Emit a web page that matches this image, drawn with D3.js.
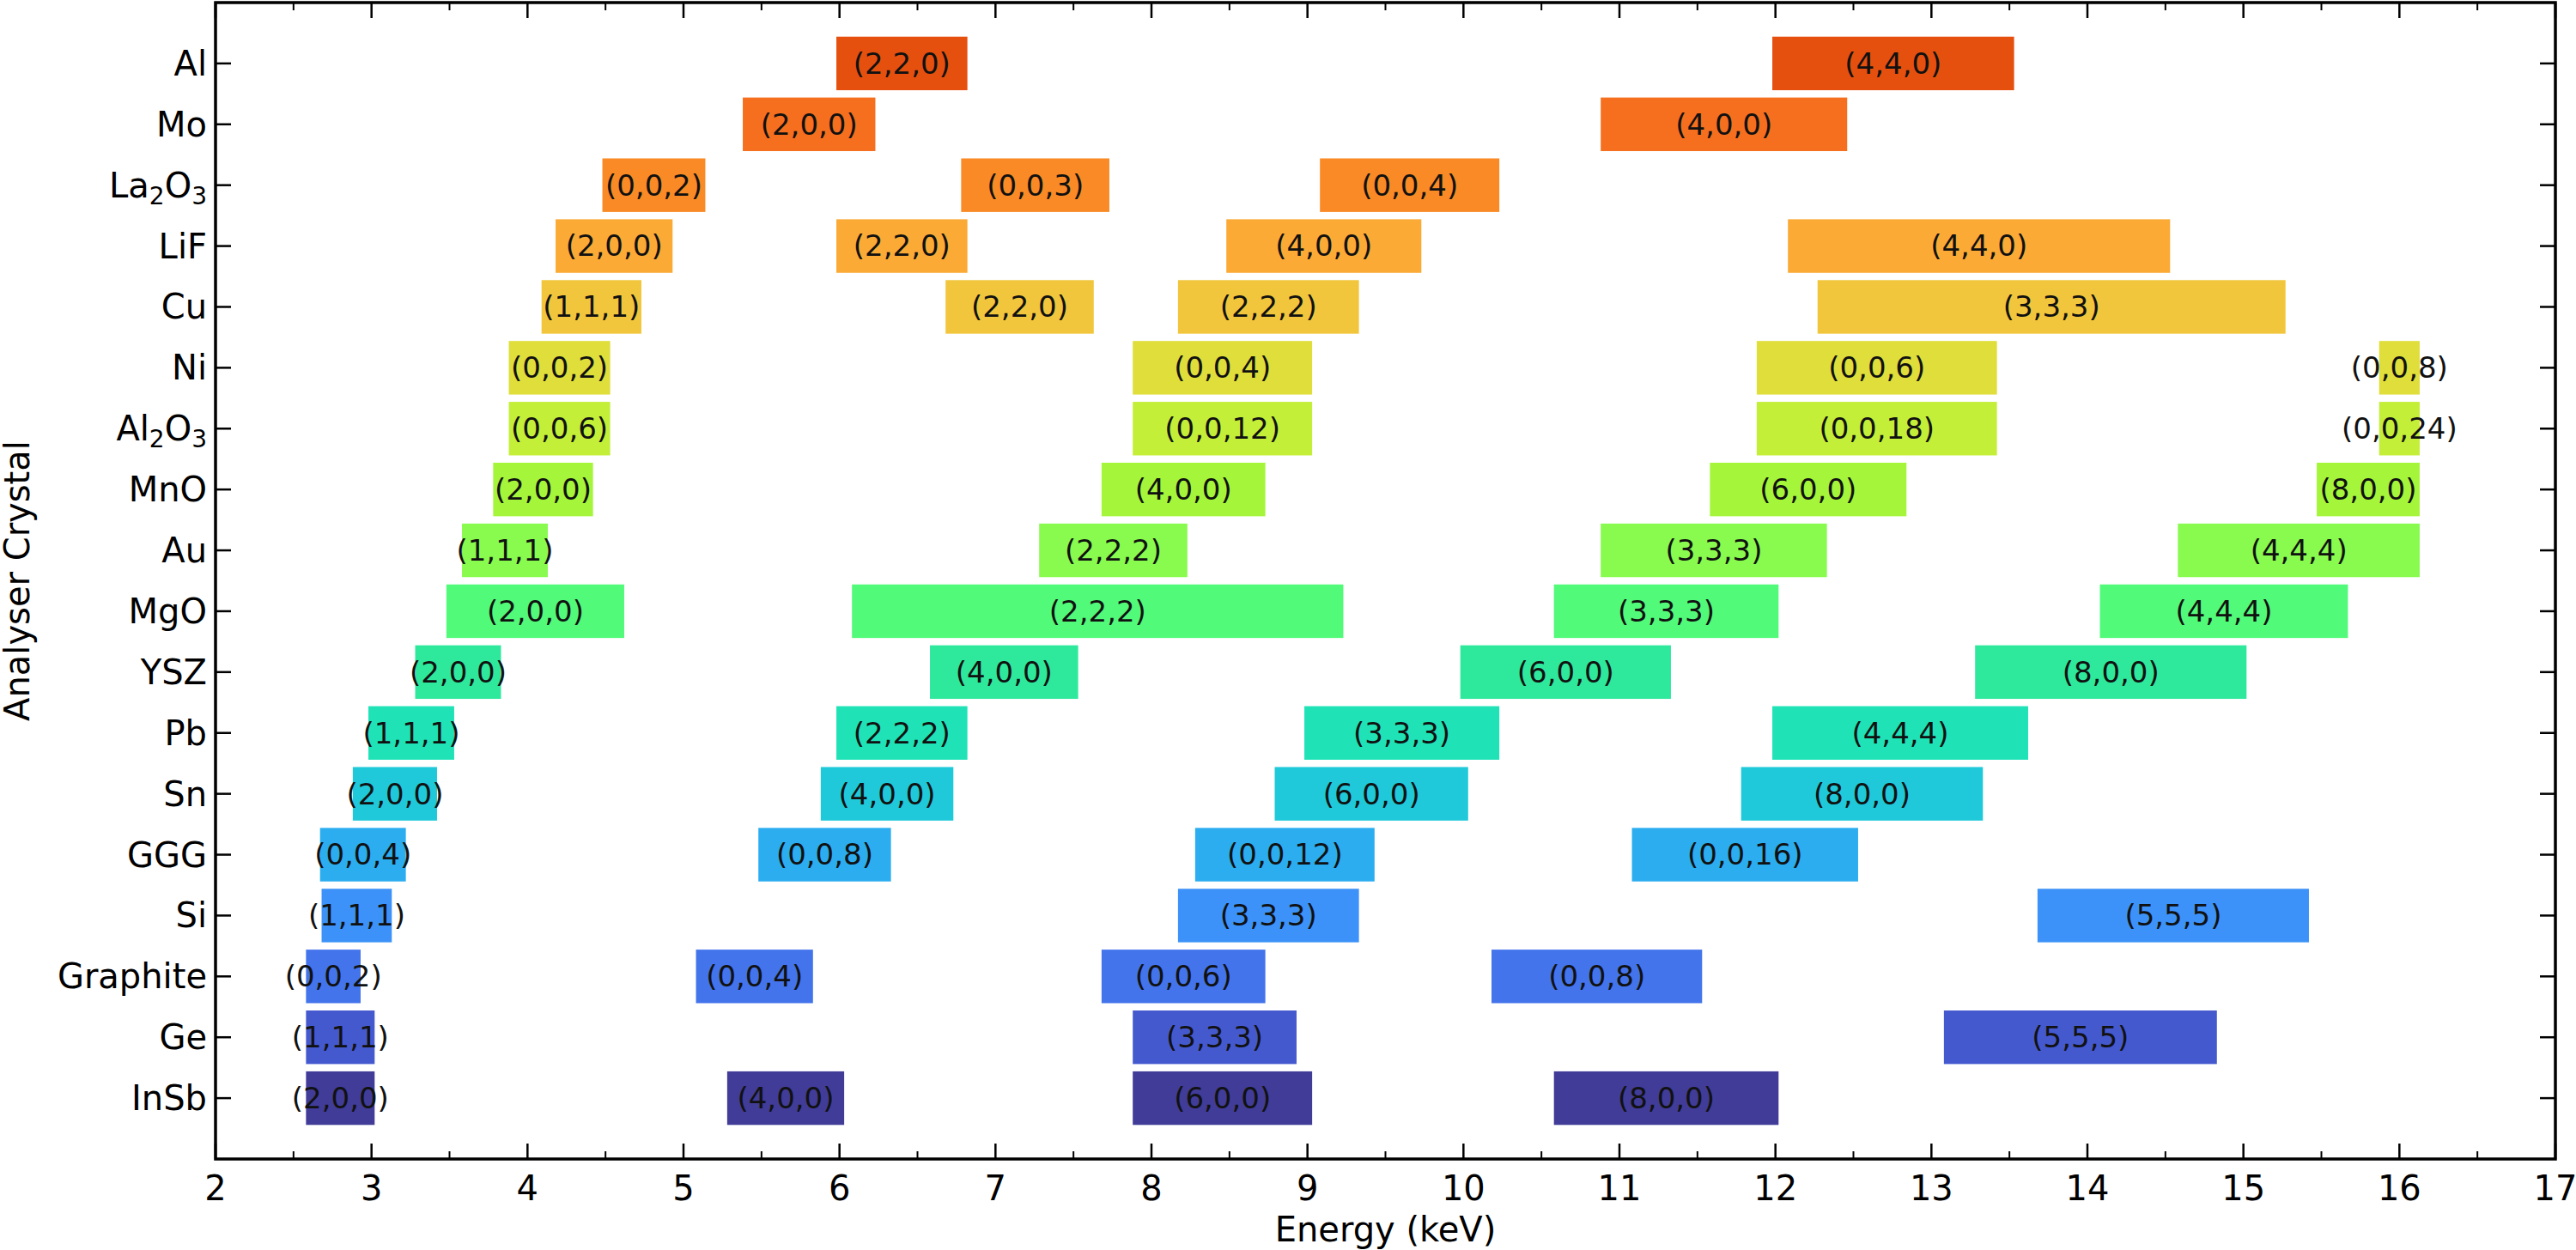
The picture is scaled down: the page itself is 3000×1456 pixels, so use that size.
<!DOCTYPE html>
<html>
<head>
<meta charset="utf-8">
<script src="https://cdn.jsdelivr.net/npm/d3@7"></script>
<style>
  body { margin: 0; background: #fff; }
  text { font-family: "DejaVu Sans", sans-serif; }
</style>
</head>
<body>
<svg id="chart" width="3000" height="1456"></svg>
<script>
// crystals top to bottom, subscripts marked with _
var crystals = ["Al", "Mo", "La_2O_3", "LiF", "Cu", "Ni", "Al_2O_3", "MnO", "Au", "MgO",
                "YSZ", "Pb", "Sn", "GGG", "Si", "Graphite", "Ge", "InSb"];
var crystalColors = ["#e5500f", "#f56f1f", "#f98a25", "#fbaa36", "#f2c63c", "#dfde3b", "#c4ef38",
                     "#a5f63a", "#88fb4e", "#52fa7a", "#2ee99c", "#1fe3b7", "#1fc9d9", "#2badf0",
                     "#3c92f8", "#4374ec", "#4559cf", "#403c98"];
// [crystal index, start keV, end keV, reflection]
var reflections = [
  [0, 5.98, 6.82, "(2,2,0)"], [0, 11.98, 13.53, "(4,4,0)"],
  [1, 5.38, 6.23, "(2,0,0)"], [1, 10.88, 12.46, "(4,0,0)"],
  [2, 4.48, 5.14, "(0,0,2)"], [2, 6.78, 7.73, "(0,0,3)"], [2, 9.08, 10.23, "(0,0,4)"],
  [3, 4.18, 4.93, "(2,0,0)"], [3, 5.98, 6.82, "(2,2,0)"], [3, 8.48, 9.73, "(4,0,0)"], [3, 12.08, 14.53, "(4,4,0)"],
  [4, 4.09, 4.73, "(1,1,1)"], [4, 6.68, 7.63, "(2,2,0)"], [4, 8.17, 9.33, "(2,2,2)"], [4, 12.27, 15.27, "(3,3,3)"],
  [5, 3.88, 4.53, "(0,0,2)"], [5, 7.88, 9.03, "(0,0,4)"], [5, 11.88, 13.42, "(0,0,6)"], [5, 15.87, 16.13, "(0,0,8)"],
  [6, 3.88, 4.53, "(0,0,6)"], [6, 7.88, 9.03, "(0,0,12)"], [6, 11.88, 13.42, "(0,0,18)"], [6, 15.87, 16.13, "(0,0,24)"],
  [7, 3.78, 4.42, "(2,0,0)"], [7, 7.68, 8.73, "(4,0,0)"], [7, 11.58, 12.84, "(6,0,0)"], [7, 15.47, 16.13, "(8,0,0)"],
  [8, 3.58, 4.13, "(1,1,1)"], [8, 7.28, 8.23, "(2,2,2)"], [8, 10.88, 12.33, "(3,3,3)"], [8, 14.58, 16.13, "(4,4,4)"],
  [9, 3.48, 4.62, "(2,0,0)"], [9, 6.08, 9.23, "(2,2,2)"], [9, 10.58, 12.02, "(3,3,3)"], [9, 14.08, 15.67, "(4,4,4)"],
  [10, 3.28, 3.83, "(2,0,0)"], [10, 6.58, 7.53, "(4,0,0)"], [10, 9.98, 11.33, "(6,0,0)"], [10, 13.28, 15.02, "(8,0,0)"],
  [11, 2.98, 3.53, "(1,1,1)"], [11, 5.98, 6.82, "(2,2,2)"], [11, 8.98, 10.23, "(3,3,3)"], [11, 11.98, 13.62, "(4,4,4)"],
  [12, 2.88, 3.42, "(2,0,0)"], [12, 5.88, 6.73, "(4,0,0)"], [12, 8.79, 10.03, "(6,0,0)"], [12, 11.78, 13.33, "(8,0,0)"],
  [13, 2.67, 3.22, "(0,0,4)"], [13, 5.48, 6.33, "(0,0,8)"], [13, 8.28, 9.43, "(0,0,12)"], [13, 11.08, 12.53, "(0,0,16)"],
  [14, 2.68, 3.13, "(1,1,1)"], [14, 8.17, 9.33, "(3,3,3)"], [14, 13.68, 15.42, "(5,5,5)"],
  [15, 2.58, 2.93, "(0,0,2)"], [15, 5.08, 5.83, "(0,0,4)"], [15, 7.68, 8.73, "(0,0,6)"], [15, 10.18, 11.53, "(0,0,8)"],
  [16, 2.58, 3.02, "(1,1,1)"], [16, 7.88, 8.93, "(3,3,3)"], [16, 13.08, 14.83, "(5,5,5)"],
  [17, 2.58, 3.02, "(2,0,0)"], [17, 5.28, 6.03, "(4,0,0)"], [17, 7.88, 9.03, "(6,0,0)"], [17, 10.58, 12.02, "(8,0,0)"]
];
var xTicks = d3.range(2, 18, 1);

(function () {
  var pLeft = 251, pRight = 2976, pTop = 3, pBottom = 1350;
  var svg = d3.select("#chart");
  var x = d3.scaleLinear().domain([2, 17]).range([pLeft, pRight]);
  var y = d3.scaleLinear().domain([-1, 18]).range([pTop, pBottom]);
  var barH = 0.88 * (y(1) - y(0));

  // bars
  svg.append("g").selectAll("rect").data(reflections).enter().append("rect")
    .attr("x", d => x(d[1]))
    .attr("y", d => y(d[0]) - barH / 2)
    .attr("width", d => x(d[2]) - x(d[1]))
    .attr("height", barH)
    .attr("fill", d => crystalColors[d[0]]);

  svg.append("g").selectAll("text").data(reflections).enter().append("text")
    .attr("x", d => x((d[1] + d[2]) / 2))
    .attr("y", d => y(d[0]))
    .attr("dy", "0.35em")
    .attr("text-anchor", "middle")
    .attr("font-size", 34)
    .attr("fill", "#111")
    .text(d => d[3]);

  // ticks inward on all four sides
  var minor = d3.range(2.5, 17, 1);
  function xTickMarks(g, ty, dir) {
    g.selectAll(".maj").data(xTicks).enter().append("line")
      .attr("x1", d => x(d)).attr("x2", d => x(d))
      .attr("y1", ty).attr("y2", ty + dir * 18).attr("stroke", "#000").attr("stroke-width", 2.5);
    g.selectAll(".min").data(minor).enter().append("line")
      .attr("x1", d => x(d)).attr("x2", d => x(d))
      .attr("y1", ty).attr("y2", ty + dir * 9).attr("stroke", "#000").attr("stroke-width", 2);
  }
  xTickMarks(svg.append("g"), pBottom, -1);
  xTickMarks(svg.append("g"), pTop, 1);

  var yIdx = d3.range(crystals.length);
  [[pLeft, 1], [pRight, -1]].forEach(function (s) {
    svg.append("g").selectAll("line").data(yIdx).enter().append("line")
      .attr("x1", s[0]).attr("x2", s[0] + s[1] * 18)
      .attr("y1", d => y(d)).attr("y2", d => y(d))
      .attr("stroke", "#000").attr("stroke-width", 2.5);
  });

  svg.append("rect").attr("x", pLeft).attr("y", pTop)
    .attr("width", pRight - pLeft).attr("height", pBottom - pTop)
    .attr("fill", "none").attr("stroke", "#000").attr("stroke-width", 3.5);

  svg.append("g").selectAll("text").data(xTicks).enter().append("text")
    .attr("x", d => x(d)).attr("y", pBottom + 48)
    .attr("text-anchor", "middle").attr("font-size", 40)
    .text(d => d);

  var yl = svg.append("g").selectAll("text").data(crystals).enter().append("text")
    .attr("x", pLeft - 10).attr("y", (d, i) => y(i))
    .attr("dy", "0.35em").attr("text-anchor", "end").attr("font-size", 40);
  yl.each(function (d) {
    var t = d3.select(this);
    d.split(/(_\d)/).forEach(function (part, k) {
      if (!part) return;
      if (part[0] === "_") {
        t.append("tspan").attr("font-size", 28).attr("dy", 8).text(part.slice(1));
      } else {
        t.append("tspan").attr("dy", k > 0 ? -8 : null).text(part);
      }
    });
  });

  svg.append("text").attr("x", (pLeft + pRight) / 2).attr("y", pBottom + 96)
    .attr("text-anchor", "middle").attr("font-size", 40).text("Energy (keV)");
  svg.append("text").attr("transform", "translate(34," + (pTop + pBottom) / 2 + ") rotate(-90)")
    .attr("text-anchor", "middle").attr("font-size", 40).text("Analyser Crystal");
})();
</script>
</body>
</html>
